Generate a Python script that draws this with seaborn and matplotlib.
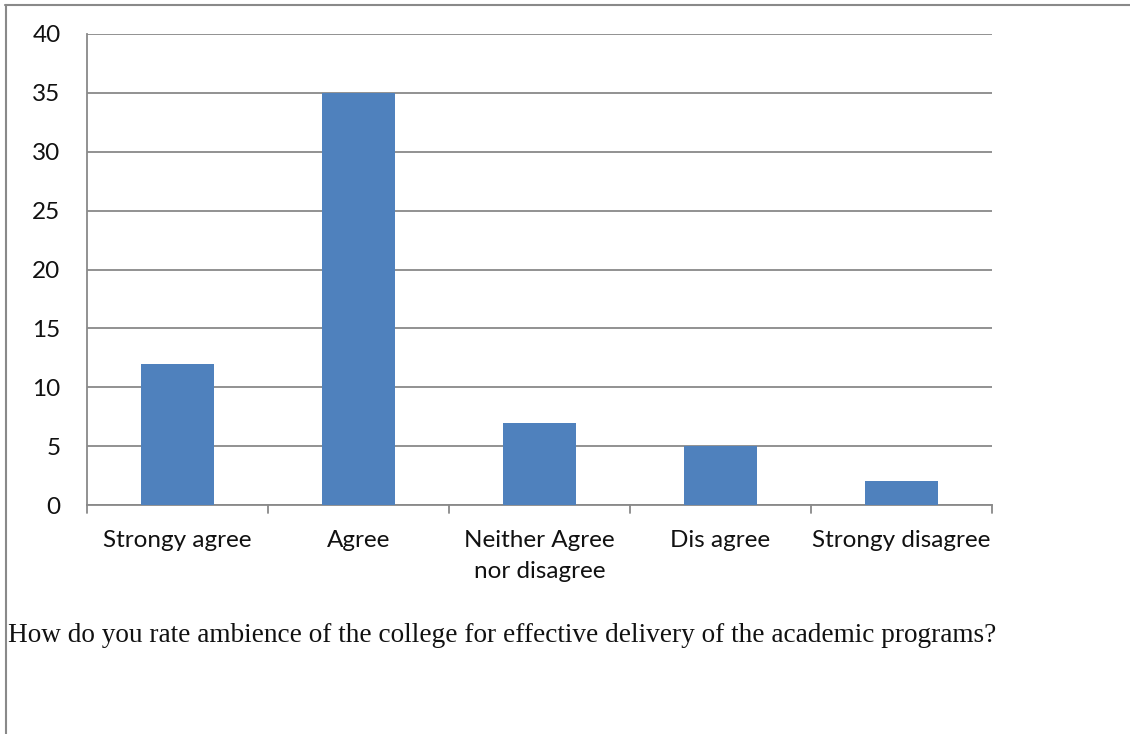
import matplotlib
matplotlib.use("Agg")
import matplotlib.pyplot as plt
import seaborn as sns
import pandas as pd
from matplotlib.lines import Line2D

categories = ["Strongy agree", "Agree", "Neither Agree\nnor disagree", "Dis agree", "Strongy disagree"]
counts = [12, 35, 7, 5, 2]
y_ticks = [0, 5, 10, 15, 20, 25, 30, 35, 40]
caption = "How do you rate ambience of the college for effective delivery of the academic programs?"

df = pd.DataFrame({"response": categories, "count": counts})

sns.set_theme(style="white")
plt.rcParams['font.family'] = ['Lato', 'DejaVu Sans']

grey = "#898989"
fig = plt.figure(figsize=(11.3, 7.34), dpi=100)
ax = fig.add_axes([87 / 1130, 1 - 505 / 734, 905 / 1130, 471 / 734])

sns.barplot(data=df, x="response", y="count", color="#4F81BD", width=0.4,
            saturation=1, linewidth=0, ax=ax, zorder=3)

ax.set_ylim(0, 40)
ax.set_xlim(-0.5, len(categories) - 0.5)
ax.set_yticks(y_ticks)
ax.set_yticklabels([str(t) for t in y_ticks], fontsize=17.5, color="#111111")
ax.yaxis.grid(True, color=grey, linewidth=1.3, zorder=0)
ax.set_axisbelow(True)

ax.set_xticks(range(len(categories)))
ax.set_xticklabels(categories, fontsize=17.5, color="#111111", linespacing=1.6)
ax.tick_params(axis="x", length=0, pad=18)
ax.tick_params(axis="y", length=8, width=1.3, color=grey, pad=11)
ax.set_xlabel("")
ax.set_ylabel("")

# boundary ticks between categories
for b in [i - 0.5 for i in range(len(categories) + 1)]:
    ax.plot([b, b], [0, -0.016], transform=ax.get_xaxis_transform(), color=grey,
            linewidth=1.3, clip_on=False)

for side in ["top", "right"]:
    ax.spines[side].set_visible(False)
for side in ["left", "bottom"]:
    ax.spines[side].set_color(grey)
    ax.spines[side].set_linewidth(1.3)

# page frame lines
fig.add_artist(Line2D([5 / 1130, 1], [1 - 4.5 / 734, 1 - 4.5 / 734], color=grey, linewidth=1.5))
fig.add_artist(Line2D([6 / 1130, 6 / 1130], [0, 1 - 4.5 / 734], color=grey, linewidth=1.5))

fig.text(8 / 1130, 1 - 635 / 734, caption, fontsize=19.6, va="center", ha="left",
         family=["Liberation Serif", "DejaVu Serif"], color="#111111")

fig.savefig("out.png", dpi=100)
